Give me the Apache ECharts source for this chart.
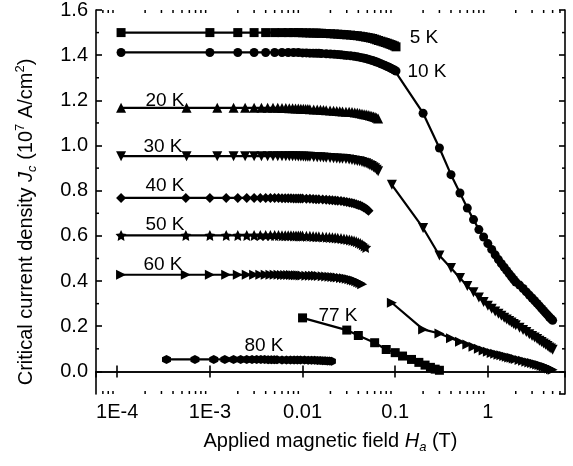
<!DOCTYPE html>
<html>
<head>
<meta charset="utf-8">
<script src="https://cdn.jsdelivr.net/npm/echarts@6.0.0/dist/echarts.min.js"></script>
<style>
html,body{margin:0;padding:0;background:#fff;}
#chart{width:573px;height:466px;}
</style>
</head>
<body>
<div id="chart"></div>
<script>
// ---------------- data ----------------
// applied field grids (T)
const lowFieldA = [1.1e-4, 0.001, 0.002, 0.003, 0.004, 0.005, 0.006, 0.007, 0.008, 0.009,
  0.010, 0.011, 0.012, 0.013, 0.014, 0.015, 0.016,
  0.018, 0.020, 0.022, 0.024, 0.026, 0.028, 0.030,
  0.033, 0.036, 0.039, 0.042, 0.045, 0.048, 0.051, 0.054, 0.057, 0.060, 0.063, 0.066,
  0.070, 0.074, 0.078, 0.082, 0.086, 0.090, 0.094, 0.098, 0.102];
const lowFieldB = [1.1e-4, 5.6e-4, 0.0012, 0.0018, 0.0024, 0.0030, 0.0036, 0.0042, 0.0048, 0.0054,
  0.0060, 0.0066, 0.0072, 0.0078, 0.0084, 0.0090, 0.0096, 0.0102, 0.0108, 0.0114, 0.0120,
  0.0132, 0.0144, 0.0156, 0.0168, 0.0180, 0.0198, 0.0216, 0.0234, 0.0252, 0.0270,
  0.0294, 0.0318, 0.0342, 0.0366, 0.0390, 0.0414, 0.0438, 0.0462, 0.0486, 0.0510,
  0.0534, 0.0558, 0.0582, 0.0606, 0.0630, 0.0654];
const lowFieldC = [1.1e-4, 5.5e-4, 0.0010, 0.0015, 0.0020, 0.0025, 0.0030, 0.0035, 0.0040, 0.0045,
  0.0050, 0.0055, 0.0060, 0.0065, 0.0070, 0.0075, 0.0080, 0.0085, 0.0090, 0.0095, 0.0100,
  0.0110, 0.0120, 0.0130, 0.0140, 0.0150, 0.0165, 0.0180, 0.0195, 0.0210, 0.0225,
  0.0240, 0.0260, 0.0280, 0.0300, 0.0320, 0.0340, 0.0360, 0.0380, 0.0400, 0.0420,
  0.0440, 0.0460, 0.0480, 0.0500, 0.0515];
const lowFieldD = [3.4e-4, 6.9e-4, 0.00110, 0.00145, 0.0018, 0.00215, 0.0025, 0.00285, 0.0032, 0.00355,
  0.0039, 0.00425, 0.0046, 0.00495, 0.0053, 0.0060, 0.0067, 0.0074, 0.0081, 0.0088, 0.0095,
  0.0105, 0.0115, 0.0125, 0.0135, 0.0145, 0.0155, 0.0165, 0.0175, 0.0185, 0.0195, 0.0205];
const highField = [0.092, 0.2, 0.3, 0.4, 0.5, 0.6, 0.7, 0.8, 0.9, 1.0,
  1.1, 1.2, 1.3, 1.4, 1.5, 1.6, 1.7, 1.8, 1.9, 2.0,
  2.2, 2.4, 2.6, 2.8, 3.0, 3.2, 3.4, 3.6, 3.8, 4.0, 4.2, 4.4, 4.6, 4.8, 5.0];
const field77K = [0.010, 0.030, 0.040, 0.060, 0.080, 0.100, 0.120, 0.150, 0.180, 0.210, 0.240, 0.270, 0.300];

// critical current density (10^7 A/cm^2)
const jc5K = [1.500, 1.500, 1.500, 1.500, 1.500, 1.500, 1.500, 1.500, 1.500, 1.500,
  1.499, 1.499, 1.498, 1.498, 1.498, 1.497, 1.497,
  1.496, 1.495, 1.494, 1.493, 1.492, 1.491, 1.490,
  1.489, 1.487, 1.486, 1.484, 1.482, 1.480, 1.478, 1.476, 1.474, 1.471, 1.468, 1.465,
  1.462, 1.459, 1.456, 1.453, 1.450, 1.447, 1.444, 1.441, 1.437];
const jc10KLow = [1.412, 1.412, 1.412, 1.412, 1.412, 1.412, 1.412, 1.412, 1.412, 1.412,
  1.410, 1.410, 1.409, 1.409, 1.408, 1.408, 1.407,
  1.406, 1.405, 1.404, 1.403, 1.402, 1.400, 1.399,
  1.397, 1.395, 1.393, 1.390, 1.388, 1.385, 1.382, 1.379, 1.376, 1.373, 1.370, 1.367,
  1.362, 1.358, 1.354, 1.350, 1.346, 1.342, 1.338, 1.334, 1.330];
const jc10KHigh = [1.143, 0.989, 0.871, 0.790, 0.723, 0.672, 0.628, 0.595, 0.566,
  0.540, 0.516, 0.495, 0.477, 0.461, 0.446, 0.432, 0.419, 0.407, 0.396,
  0.382, 0.367, 0.352, 0.338, 0.325, 0.313, 0.301, 0.290, 0.279, 0.269, 0.259, 0.250, 0.241, 0.233, 0.226];
const jc20K = [1.167, 1.167, 1.167, 1.167, 1.167, 1.167, 1.167, 1.167, 1.167, 1.167,
  1.166, 1.166, 1.165, 1.165, 1.164, 1.164, 1.163, 1.163, 1.162, 1.162, 1.161,
  1.160, 1.159, 1.158, 1.157, 1.156, 1.155, 1.154, 1.153, 1.152, 1.151,
  1.150, 1.149, 1.148, 1.146, 1.145, 1.143, 1.141, 1.139, 1.137, 1.135,
  1.133, 1.131, 1.129, 1.126, 1.123, 1.120];
const jc30KLow = [0.953, 0.953, 0.953, 0.953, 0.953, 0.953, 0.953, 0.953, 0.953, 0.953,
  0.953, 0.953, 0.952, 0.952, 0.952, 0.951, 0.951, 0.951, 0.950, 0.950, 0.950,
  0.949, 0.948, 0.948, 0.947, 0.946, 0.945, 0.944, 0.943, 0.942, 0.941,
  0.940, 0.938, 0.936, 0.934, 0.932, 0.930, 0.927, 0.924, 0.921, 0.917,
  0.913, 0.909, 0.904, 0.899, 0.893, 0.886];
const jc30KHigh = [0.826, 0.635, 0.513, 0.458, 0.414, 0.378, 0.350, 0.327, 0.307, 0.291,
  0.277, 0.265, 0.255, 0.246, 0.238, 0.230, 0.223, 0.216, 0.210, 0.204,
  0.193, 0.183, 0.174, 0.165, 0.157, 0.150, 0.143, 0.136, 0.130, 0.124, 0.118, 0.112, 0.106, 0.101, 0.096];
const jc40K = [0.768, 0.768, 0.768, 0.768, 0.768, 0.768, 0.768, 0.768, 0.768, 0.768,
  0.768, 0.768, 0.767, 0.767, 0.767, 0.767, 0.766, 0.766, 0.766, 0.765, 0.765,
  0.764, 0.764, 0.763, 0.762, 0.762, 0.761, 0.760, 0.759, 0.758, 0.757,
  0.756, 0.754, 0.752, 0.750, 0.748, 0.746, 0.743, 0.740, 0.737, 0.734,
  0.730, 0.726, 0.721, 0.716, 0.711];
const jc50K = [0.602, 0.602, 0.602, 0.602, 0.602, 0.602, 0.602, 0.602, 0.602, 0.602,
  0.602, 0.602, 0.601, 0.601, 0.601, 0.601, 0.600, 0.600, 0.600, 0.599, 0.599,
  0.598, 0.598, 0.597, 0.596, 0.596, 0.595, 0.594, 0.593, 0.592, 0.591,
  0.590, 0.588, 0.586, 0.584, 0.582, 0.580, 0.577, 0.574, 0.570, 0.566,
  0.561, 0.555, 0.549];
const jc60KLow = [0.428, 0.428, 0.428, 0.428, 0.428, 0.428, 0.428, 0.428, 0.428, 0.428,
  0.428, 0.428, 0.427, 0.427, 0.427, 0.427, 0.426, 0.426, 0.426, 0.425, 0.425,
  0.424, 0.424, 0.423, 0.423, 0.422, 0.421, 0.420, 0.419, 0.418, 0.417,
  0.416, 0.414, 0.412, 0.410, 0.408, 0.405, 0.402, 0.399, 0.395, 0.391,
  0.386];
const jc60KHigh = [0.304, 0.186, 0.168, 0.147, 0.131, 0.119, 0.109, 0.100, 0.093, 0.087,
  0.082, 0.078, 0.074, 0.071, 0.068, 0.065, 0.062, 0.060, 0.057, 0.055,
  0.051, 0.047, 0.043, 0.040, 0.037, 0.034, 0.031, 0.028, 0.025, 0.022, 0.019, 0.016, 0.013, 0.010, 0.007];
const jc77K = [0.237, 0.183, 0.159, 0.127, 0.097, 0.083, 0.068, 0.053, 0.040, 0.028, 0.018, 0.010, 0.005];
const jc80K = [0.053, 0.053, 0.053, 0.053, 0.053, 0.053, 0.053, 0.053, 0.053, 0.053,
  0.053, 0.052, 0.052, 0.052, 0.052, 0.051, 0.051, 0.051, 0.051, 0.050, 0.050,
  0.050, 0.049, 0.049, 0.049, 0.048, 0.048, 0.047, 0.047, 0.046, 0.046, 0.045];

// ticks & labels
const xTickText = ['1E-4', '1E-3', '0.01', '0.1', '1'];
const xMinorTicks = [7e-5, 8e-5, 9e-5,
  2e-4, 3e-4, 4e-4, 5e-4, 6e-4, 7e-4, 8e-4, 9e-4,
  0.002, 0.003, 0.004, 0.005, 0.006, 0.007, 0.008, 0.009,
  0.02, 0.03, 0.04, 0.05, 0.06, 0.07, 0.08, 0.09,
  0.2, 0.3, 0.4, 0.5, 0.6, 0.7, 0.8, 0.9,
  2, 3, 4, 5, 6];
const yMinorTicks = [0.1, 0.3, 0.5, 0.7, 0.9, 1.1, 1.3, 1.5];
const tempLabels = ['5 K', '10 K', '20 K', '30 K', '40 K', '50 K', '60 K', '77 K', '80 K'];

// ---------------- chart ----------------
const FONT = '"Liberation Sans", Arial, Helvetica, sans-serif';
function pairs(xs, ys) { return ys.map((y, i) => [xs[i], y]); }

const SYM = {
  square: 'rect',
  circle: 'circle',
  up: 'triangle',
  down: 'path://M-10,-8 L10,-8 L0,9 Z',
  diamond: 'diamond',
  star: 'path://M0,-10 L2.9,-4 L9.5,-3.1 L4.8,1.5 L5.9,8.1 L0,5 L-5.9,8.1 L-4.8,1.5 L-9.5,-3.1 L-2.9,-4 Z',
  right: 'path://M-8,-10 L9,0 L-8,10 Z',
  hex: 'path://M-8.66,-5 L0,-10 L8.66,-5 L8.66,5 L0,10 L-8.66,5 Z'
};

function lineSeries(name, data, symbol, size) {
  return {
    name: name, type: 'line', data: data,
    symbol: symbol, symbolSize: size, showAllSymbol: true,
    lineStyle: { color: '#000', width: 2.2 },
    itemStyle: { color: '#000' },
    silent: true, animation: false, clip: true
  };
}

const axisLineStyle = { color: '#000', width: 1.6 };
const tickLabelStyle = { color: '#000', fontSize: 20, fontFamily: FONT };

const option = {
  animation: false,
  backgroundColor: '#fff',
  grid: { left: 96, right: 8, top: 10, bottom: 72, containLabel: false, outerBoundsMode: 'none' },
  xAxis: [{
    type: 'log', logBase: 10, min: 5.9e-5, max: 6.8, position: 'bottom',
    axisLine: { lineStyle: axisLineStyle },
    axisTick: { inside: true, length: 6, lineStyle: { color: '#000', width: 1.6 } },
    axisLabel: Object.assign({
      margin: 8, showMinLabel: false, showMaxLabel: false,
      formatter: function (v) {
        const e = Math.round(Math.log10(v));
        return xTickText[e + 4] || '';
      }
    }, tickLabelStyle),
    splitLine: { show: false },
    name: '{n|Applied magnetic field }{i|H}{sub|a}{n| (T)}',
    nameLocation: 'middle', nameGap: 35,
    nameTextStyle: {
      color: '#000', fontFamily: FONT, fontSize: 20,
      rich: {
        n: { fontSize: 20, fontFamily: FONT, lineHeight: 25, color: '#000' },
        i: { fontSize: 20, fontFamily: FONT, fontStyle: 'italic', lineHeight: 25, color: '#000' },
        sub: { fontSize: 13, fontFamily: FONT, fontStyle: 'italic', lineHeight: 13, verticalAlign: 'bottom', color: '#000' }
      }
    }
  }, {
    type: 'log', logBase: 10, min: 5.9e-5, max: 6.8, position: 'top',
    axisLine: { lineStyle: axisLineStyle },
    axisTick: { inside: true, length: 6, lineStyle: { color: '#000', width: 1.6 } },
    axisLabel: { show: false },
    splitLine: { show: false }
  }],
  yAxis: [{
    type: 'value', min: -0.1, max: 1.6, splitNumber: 8, position: 'left',
    axisLine: { show: true, lineStyle: axisLineStyle },
    axisTick: { show: true, inside: true, length: 6, lineStyle: { color: '#000', width: 1.6 } },
    axisLabel: Object.assign({
      margin: 8, showMinLabel: false,
      formatter: function (v) { return v.toFixed(1); }
    }, tickLabelStyle),
    splitLine: { show: false },
    name: '{n|Critical current density }{i|J}{sub|c}{n| (10}{sup|7}{n| A/cm}{sup|2}{n|)}',
    nameLocation: 'middle', nameGap: 57, nameRotate: 90,
    nameTextStyle: {
      color: '#000', fontFamily: FONT, fontSize: 20,
      padding: [0, 40, 0, 0],
      rich: {
        n: { fontSize: 20, fontFamily: FONT, lineHeight: 25, color: '#000' },
        i: { fontSize: 20, fontFamily: FONT, fontStyle: 'italic', lineHeight: 25, color: '#000' },
        sub: { fontSize: 13, fontFamily: FONT, fontStyle: 'italic', lineHeight: 13, verticalAlign: 'bottom', color: '#000' },
        sup: { fontSize: 13, fontFamily: FONT, lineHeight: 13, verticalAlign: 'top', color: '#000' }
      }
    }
  }, {
    type: 'value', min: -0.1, max: 1.6, splitNumber: 8, position: 'right',
    axisLine: { show: true, lineStyle: axisLineStyle },
    axisTick: { show: true, inside: true, length: 6, lineStyle: { color: '#000', width: 1.6 } },
    axisLabel: { show: false },
    splitLine: { show: false }
  }],
  series: [
    lineSeries('5 K', pairs(lowFieldA, jc5K), SYM.square, 9),
    lineSeries('10 K', pairs(lowFieldA, jc10KLow).concat(pairs(highField.slice(1), jc10KHigh)), SYM.circle, 9),
    lineSeries('20 K', pairs(lowFieldB, jc20K), SYM.up, 10),
    lineSeries('30 K', pairs(lowFieldB, jc30KLow), SYM.down, 10),
    lineSeries('30 K', pairs(highField, jc30KHigh), SYM.down, 10),
    lineSeries('40 K', pairs(lowFieldC, jc40K), SYM.diamond, 10),
    lineSeries('50 K', pairs(lowFieldC, jc50K), SYM.star, 11),
    lineSeries('60 K', pairs(lowFieldC, jc60KLow), SYM.right, 10),
    lineSeries('60 K', pairs(highField, jc60KHigh), SYM.right, 10),
    lineSeries('77 K', pairs(field77K, jc77K), SYM.square, 9),
    lineSeries('80 K', pairs(lowFieldD, jc80K), SYM.hex, 9),
    {
      type: 'custom', silent: true, clip: false, animation: false,
      data: xMinorTicks.map(v => [v, 0]),
      renderItem: function (params, api) {
        const cs = params.coordSys;
        const x = api.coord([api.value(0), 0])[0];
        const yb = cs.y + cs.height, yt = cs.y;
        const st = { stroke: '#000', lineWidth: 1.5 };
        return { type: 'group', children: [
          { type: 'line', shape: { x1: x, y1: yb, x2: x, y2: yb - 3 }, style: st },
          { type: 'line', shape: { x1: x, y1: yt, x2: x, y2: yt + 3 }, style: st }
        ] };
      }
    },
    {
      type: 'custom', silent: true, clip: false, animation: false,
      data: yMinorTicks.map(v => [1, v]),
      renderItem: function (params, api) {
        const cs = params.coordSys;
        const y = api.coord([1, api.value(1)])[1];
        const xl = cs.x, xr = cs.x + cs.width;
        const st = { stroke: '#000', lineWidth: 1.5 };
        return { type: 'group', children: [
          { type: 'line', shape: { x1: xl, y1: y, x2: xl + 3, y2: y }, style: st },
          { type: 'line', shape: { x1: xr, y1: y, x2: xr - 3, y2: y }, style: st }
        ] };
      }
    }
  ],
  graphic: [
    [424, 38], [427, 72], [165, 101], [163, 147], [165, 186], [165, 225], [163, 265], [338, 316], [264, 346]
  ].map((p, i) => ({
    type: 'text', x: p[0], y: p[1], silent: true,
    style: { text: tempLabels[i], fill: '#000', font: '19px ' + FONT, align: 'center', verticalAlign: 'middle' }
  }))
};

const chart = echarts.init(document.getElementById('chart'), null, { renderer: 'canvas' });
chart.setOption(option);
</script>
</body>
</html>
